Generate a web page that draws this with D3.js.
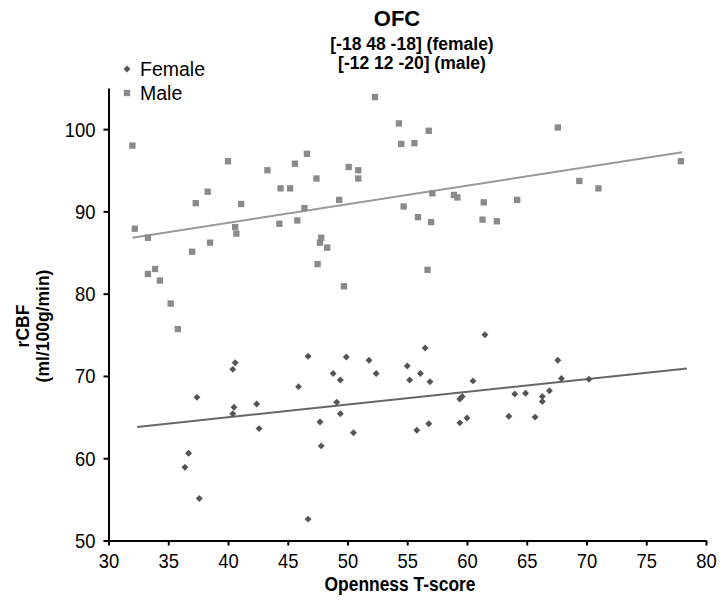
<!DOCTYPE html>
<html><head><meta charset="utf-8">
<script src="https://cdn.jsdelivr.net/npm/d3@7"></script>
<style>
body{margin:0;background:#fff;}
text{font-family:"Liberation Sans",Arial,sans-serif;}
</style></head>
<body><svg id="c" width="720" height="604"></svg>
<script>
const xTicks = [30,35,40,45,50,55,60,65,70,75,80];
const yTicks = [50,60,70,80,90,100];
const maleX = [32.0,32.2,33.3,33.3,33.9,34.3,35.2,35.8,37.0,37.3,38.3,38.5,40.0,40.6,40.7,41.1,43.3,44.4,45.2,45.6,44.3,45.8,46.6,50.1,50.9,47.4,50.9,49.3,46.4,52.3,54.3,56.8,54.5,55.6,57.1,58.9,59.2,54.7,61.4,55.9,57.0,61.3,62.5,47.8,47.7,48.3,47.5,56.7,49.7,67.6,69.4,71.0,64.2,77.9];
const maleY = [98.0,87.9,86.8,82.4,83.0,81.6,78.8,75.7,85.1,91.0,92.4,86.2,96.1,88.1,87.3,90.9,95.0,92.8,92.8,95.8,88.5,88.9,97.0,95.4,95.0,94.0,94.0,91.4,90.4,103.9,100.7,99.8,98.2,98.3,92.2,92.0,91.7,90.6,91.1,89.3,88.7,89.0,88.8,86.8,86.2,85.6,83.6,82.9,80.9,100.2,93.7,92.8,91.4,96.1];
const femaleX = [40.6,40.4,37.4,40.5,40.4,42.4,42.6,36.7,36.4,37.6,45.9,46.7,46.7,49.9,51.8,48.8,49.4,52.4,49.1,49.4,47.7,47.8,50.5,55.0,56.5,55.2,56.1,56.9,55.8,56.8,59.4,60.0,59.4,59.6,60.5,61.5,67.6,67.9,70.2,64.0,64.9,66.9,66.3,66.3,63.5,65.7];
const femaleY = [71.6,70.8,67.4,66.2,65.4,66.6,63.6,60.6,58.9,55.1,68.7,72.4,52.6,72.3,71.9,70.3,69.5,70.3,66.8,65.4,64.4,61.5,63.1,71.2,73.4,69.5,70.3,69.3,63.4,64.2,64.3,64.9,67.2,67.5,69.4,75.0,71.9,69.7,69.6,67.8,67.9,68.2,67.5,66.9,65.1,65.0];
const maleTrend = {x:[32.0,78.0], y:[86.8,97.2]};
const femaleTrend = {x:[32.4,78.4], y:[63.8,70.9]};
const maleColor = "#8a8a8a", femaleColor = "#555555";

const svg = d3.select("#c");
const x = d3.scaleLinear().domain([30,80]).range([108.5,706]);
const y = d3.scaleLinear().domain([50,105]).range([540.5,88]);

// axes
const xa = svg.append("g").attr("transform","translate(0,540.5)")
  .call(d3.axisBottom(x).tickValues(xTicks).tickSize(5).tickSizeOuter(0));
const ya = svg.append("g").attr("transform","translate(108.5,0)")
  .call(d3.axisLeft(y).tickValues(yTicks).tickSize(5).tickSizeOuter(0));
[xa,ya].forEach(a=>{
  a.select(".domain").attr("stroke","#000").attr("stroke-width",2);
  a.selectAll(".tick line").attr("stroke","#000").attr("stroke-width",2);
  a.selectAll(".tick text").attr("fill","#000").style("font-size","20px")
    .style("font-family",'"Liberation Sans",Arial,sans-serif');
});
xa.selectAll(".tick text").attr("y",0).attr("dy",0)
  .attr("transform","translate(0,27) scale(0.92,1)");
ya.selectAll(".tick text").attr("x",0).attr("dy",0)
  .attr("transform","translate(-13,7) scale(0.92,1)");

// trend lines
const line = d3.line().x(d=>x(d[0])).y(d=>y(d[1]));
svg.append("path").attr("d",line(d3.zip(maleTrend.x,maleTrend.y)))
  .attr("stroke","#999").attr("stroke-width",2).attr("fill","none");
svg.append("path").attr("d",line(d3.zip(femaleTrend.x,femaleTrend.y)))
  .attr("stroke","#666").attr("stroke-width",2).attr("fill","none");

// points
const sq = d3.symbol().type(d3.symbolSquare).size(40);
const dm = d3.symbol().type(d3.symbolSquare).size(24);
svg.append("g").selectAll("path").data(d3.zip(maleX,maleY)).join("path")
  .attr("d",sq).attr("transform",d=>`translate(${x(d[0])},${y(d[1])})`).attr("fill",maleColor);
svg.append("g").selectAll("path").data(d3.zip(femaleX,femaleY)).join("path")
  .attr("d",dm).attr("transform",d=>`translate(${x(d[0])},${y(d[1])}) rotate(45)`).attr("fill",femaleColor);

// titles
svg.append("text").attr("x",397).attr("y",26).attr("text-anchor","middle")
  .style("font-size","22px").style("font-weight","bold").text("OFC");
svg.append("text").attr("x",412).attr("y",50).attr("text-anchor","middle")
  .style("font-size","17.5px").style("font-weight","bold").text("[-18 48 -18] (female)");
svg.append("text").attr("x",412).attr("y",69).attr("text-anchor","middle")
  .style("font-size","17.5px").style("font-weight","bold").text("[-12 12 -20] (male)");

// legend
svg.append("path").attr("d",dm).attr("transform","translate(127,69) rotate(45)").attr("fill",femaleColor);
svg.append("text").attr("x",140).attr("y",76).style("font-size","19.5px").text("Female");
svg.append("path").attr("d",sq).attr("transform","translate(127,93)").attr("fill",maleColor);
svg.append("text").attr("x",140).attr("y",100).style("font-size","19.5px").text("Male");

// axis labels
svg.append("text").attr("transform","translate(400,591) scale(0.83,1)").attr("text-anchor","middle")
  .style("font-size","21px").style("font-weight","bold").text("Openness T-score");
svg.append("text").attr("transform","translate(29,326) rotate(-90)").attr("text-anchor","middle")
  .style("font-size","17.5px").style("font-weight","bold").text("rCBF");
svg.append("text").attr("transform","translate(49,326) rotate(-90)").attr("text-anchor","middle")
  .style("font-size","17.5px").style("font-weight","bold").text("(ml/100g/min)");
</script></body></html>
